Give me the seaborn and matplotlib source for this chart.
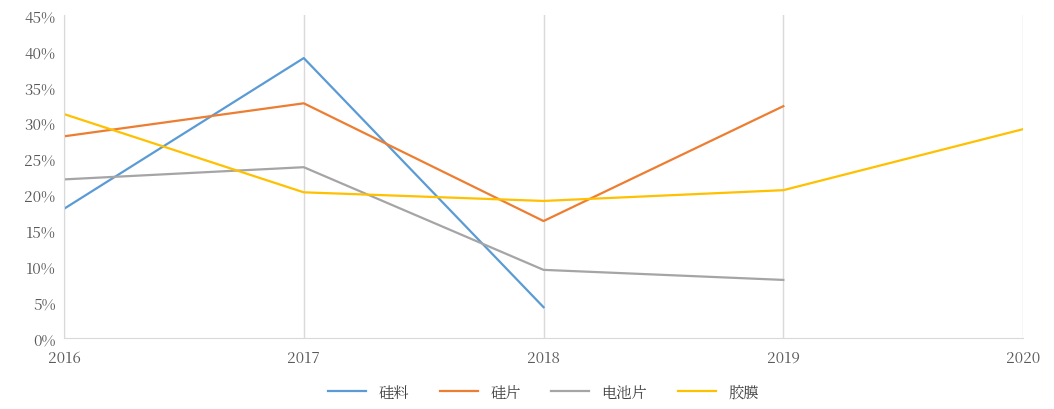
import matplotlib
matplotlib.use("Agg")
import matplotlib.pyplot as plt
from matplotlib import font_manager
import seaborn as sns
import pandas as pd
import numpy as np

years = [2016, 2017, 2018, 2019, 2020]
series_names = ["硅料", "硅片", "电池片", "胶膜"]
silicon = [18.0, 39.0, 4.3, np.nan, np.nan]
wafer = [28.1, 32.7, 16.3, 32.3, np.nan]
cell = [22.1, 23.8, 9.5, 8.1, np.nan]
film = [31.2, 20.3, 19.1, 20.6, 29.1]
colors = ["#5B9BD5", "#ED7D31", "#A5A5A5", "#FFC000"]

rows = []
for name, vals in zip(series_names, [silicon, wafer, cell, film]):
    for y, v in zip(years, vals):
        if not np.isnan(v):
            rows.append({"year": y, "value": v, "series": name})
df = pd.DataFrame(rows)

cjk = None
for f in font_manager.fontManager.ttflist:
    if "CJK SC" in f.name or "CJK" in f.name:
        cjk = f.name
        if "SC" in f.name:
            break
plt.rcParams["font.family"] = "sans-serif"
plt.rcParams["font.sans-serif"] = ([cjk] if cjk else []) + ["Noto Sans CJK SC", "DejaVu Sans"]

fig = plt.figure(figsize=(10.54, 4.10), dpi=100)
ax = fig.add_axes([0.0607, 0.173, 0.91, 0.788])
sns.lineplot(data=df, x="year", y="value", hue="series", hue_order=series_names,
             palette=colors, linewidth=1.6, ax=ax)
ax.set_xlim(2016, 2020)
ax.set_ylim(0, 45)
ax.set_xticks(years)
ax.set_xticklabels([str(y) for y in years])
ax.set_yticks(range(0, 50, 5))
ax.set_yticklabels([f"{v}%" for v in range(0, 50, 5)])
ax.tick_params(colors="#595959", labelsize=11, length=0)
ax.tick_params(axis="x", pad=8)
ax.tick_params(axis="y", pad=6)
ax.grid(axis="x", color="#D9D9D9", linewidth=1)
ax.grid(axis="y", visible=False)
for s in ["top", "right"]:
    ax.spines[s].set_visible(False)
for s in ["left", "bottom"]:
    ax.spines[s].set_color("#D9D9D9")
ax.set_xlabel("")
ax.set_ylabel("")
ax.legend(loc="upper center", bbox_to_anchor=(0.5, -0.1), ncol=4, frameon=False,
          fontsize=11, handlelength=2.5, labelcolor="#404040")
fig.savefig("out.png", dpi=100)
